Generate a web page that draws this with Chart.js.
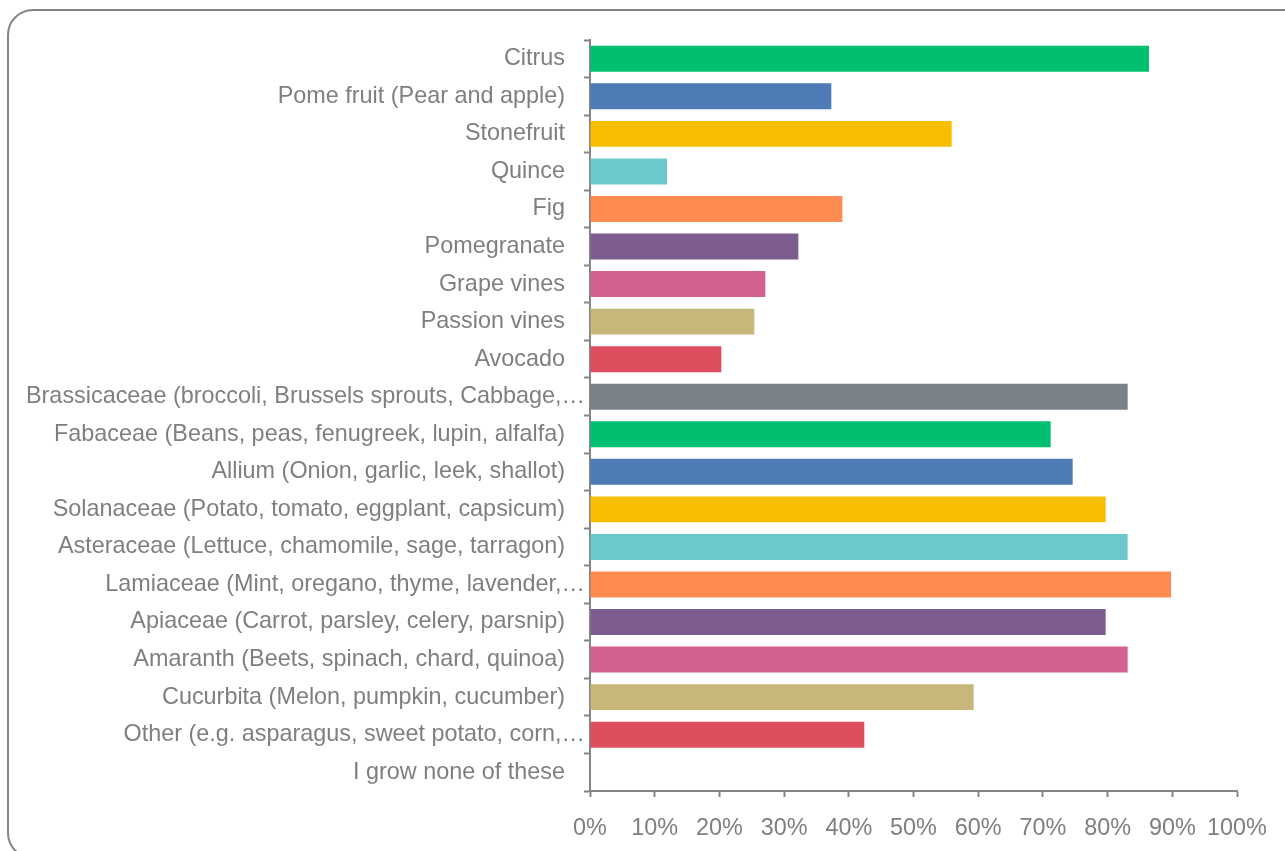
<!DOCTYPE html>
<html>
<head>
<meta charset="utf-8">
<title>Plants grown</title>
<script src="https://cdn.jsdelivr.net/npm/chart.js@4.4.1/dist/chart.umd.min.js"></script>
<style>
	html, body {
		margin: 0;
		padding: 0;
		background: #ffffff;
		overflow: hidden;
	}
	.frame {
		position: absolute;
		left: 7px;
		top: 9px;
		width: 1320px;
		height: 850px;
		border: 2px solid #858585;
		border-radius: 26px;
		box-sizing: border-box;
	}
	.chart-container {
		position: absolute;
		left: 0;
		top: 0;
		width: 1285px;
		height: 851px;
	}
</style>
</head>
<body>
<div class="frame"></div>
<div class="chart-container">
	<canvas id="myChart"></canvas>
</div>
<script>
// categories, top to bottom
const plants = [
	"Citrus",
	"Pome fruit (Pear and apple)",
	"Stonefruit",
	"Quince",
	"Fig",
	"Pomegranate",
	"Grape vines",
	"Passion vines",
	"Avocado",
	"Brassicaceae (broccoli, Brussels sprouts, Cabbage,\u2026",
	"Fabaceae (Beans, peas, fenugreek, lupin, alfalfa)",
	"Allium (Onion, garlic, leek, shallot)",
	"Solanaceae (Potato, tomato, eggplant, capsicum)",
	"Asteraceae (Lettuce, chamomile, sage, tarragon)",
	"Lamiaceae (Mint, oregano, thyme, lavender,\u2026",
	"Apiaceae (Carrot, parsley, celery, parsnip)",
	"Amaranth (Beets, spinach, chard, quinoa)",
	"Cucurbita (Melon, pumpkin, cucumber)",
	"Other (e.g. asparagus, sweet potato, corn,\u2026",
	"I grow none of these"
];

// share of respondents, percent
const shares = [
	86.4, 37.3, 55.9, 11.9, 39.0, 32.2, 27.1, 25.4, 20.3, 83.1,
	71.2, 74.6, 79.7, 83.1, 89.8, 79.7, 83.1, 59.3, 42.4, 0
];

const barColors = [
	"#00BF6F", "#4E7BB5", "#F8BE00", "#6CC8CD", "#FF8B50",
	"#7D5C8F", "#D3608F", "#C8B77A", "#DD4E5E", "#7A8189",
	"#00BF6F", "#4E7BB5", "#F8BE00", "#6CC8CD", "#FF8B50",
	"#7D5C8F", "#D3608F", "#C8B77A", "#DD4E5E", "#7A8189"
];

const xTicks = [0, 10, 20, 30, 40, 50, 60, 70, 80, 90, 100];

const axisGrey = "#868686";
const textGrey = "#7F7F7F";
const fontFamily = "'Liberation Sans', Arial, sans-serif";
const fontSize = 23.4;

// category labels drawn by hand so that the cut-off ones can run up to the axis
const categoryLabels = {
	id: 'categoryLabels',
	afterDraw: (chart) => {
		const { ctx } = chart;
		const yScale = chart.scales.y;
		ctx.save();
		ctx.font = fontSize + 'px ' + fontFamily;
		ctx.fillStyle = textGrey;
		ctx.textAlign = 'right';
		ctx.textBaseline = 'middle';
		plants.forEach((label, i) => {
			const clipped = label.endsWith('\u2026');
			const x = chart.chartArea.left - (clipped ? 5 : 25);
			ctx.fillText(label, x, yScale.getPixelForTick(i));
		});
		ctx.restore();
	}
};

const ctx = document.getElementById('myChart').getContext('2d');

const config = {
	type: 'bar',
	data: {
		labels: plants,
		datasets: [{
			data: shares,
			backgroundColor: barColors,
			borderWidth: 0,
			barPercentage: 1,
			categoryPercentage: 0.69
		}]
	},
	options: {
		indexAxis: 'y',
		responsive: true,
		maintainAspectRatio: false,
		animation: false,
		layout: {
			padding: { left: 0, right: 48, top: 40, bottom: 0 }
		},
		scales: {
			y: {
				grid: {
					display: true,
					drawOnChartArea: false,
					drawTicks: true,
					tickLength: 6,
					tickWidth: 2,
					offset: true,
					color: axisGrey
				},
				border: { color: axisGrey, width: 2 },
				ticks: {
					display: false,
					autoSkip: false
				},
				afterFit: (scale) => { scale.width = 590; }
			},
			x: {
				min: 0,
				max: 100,
				afterBuildTicks: (scale) => {
					scale.ticks = xTicks.map(v => ({ value: v }));
				},
				grid: {
					display: true,
					drawOnChartArea: false,
					drawTicks: true,
					tickLength: 6,
					tickWidth: 2,
					color: axisGrey
				},
				border: { color: axisGrey, width: 2 },
				ticks: {
					color: textGrey,
					font: { family: fontFamily, size: fontSize },
					padding: 18,
					maxRotation: 0,
					callback: (value) => value + '%'
				},
				afterFit: (scale) => { scale.height = 60; }
			}
		},
		plugins: {
			legend: { display: false },
			tooltip: { enabled: false }
		}
	},
	plugins: [categoryLabels]
};

const myChart = new Chart(ctx, config);
</script>
</body>
</html>
